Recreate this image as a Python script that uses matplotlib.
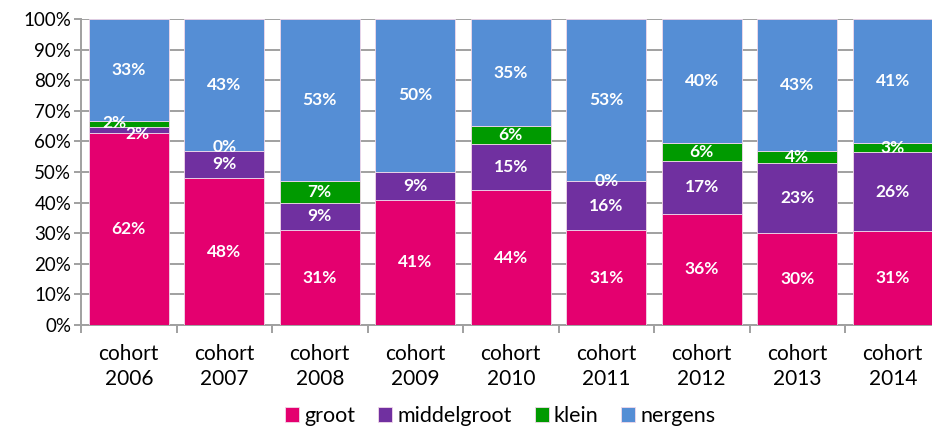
import numpy as np
import matplotlib
matplotlib.use('Agg')
import matplotlib.pyplot as plt

plt.rcParams['font.family'] = ['Lato', 'DejaVu Sans']

cohorts = ['cohort\n2006', 'cohort\n2007', 'cohort\n2008', 'cohort\n2009', 'cohort\n2010',
           'cohort\n2011', 'cohort\n2012', 'cohort\n2013', 'cohort\n2014']
series = ['groot', 'middelgroot', 'klein', 'nergens']
groot = [62, 48, 31, 41, 44, 31, 36, 30, 31]
middelgroot = [2, 9, 9, 9, 15, 16, 17, 23, 26]
klein = [2, 0, 7, np.nan, 6, 0, 6, 4, 3]
nergens = [33, 43, 53, 50, 35, 53, 40, 43, 41]
colors = ['#E4006F', '#7030A0', '#009A00', '#558ED5']

data = np.array([groot, middelgroot, klein, nergens], dtype=float)
share = np.nan_to_num(data)
share = share / share.sum(axis=0) * 100

fig = plt.figure(figsize=(9.32, 4.30), dpi=100)
ax = fig.add_axes([81 / 932, 1 - 325 / 430, 851 / 932, 306 / 430])

x = np.arange(len(cohorts))
w = 0.84
bottom = np.zeros(len(cohorts))
# small nudges for the crowded labels
nudge = {(2, 0): (-0.15, 0.5), (1, 0): (0.09, -1.3), (2, 1): (0, 1.2)}
for k, name in enumerate(series):
    ax.bar(x, share[k], w, bottom=bottom, color=colors[k], label=name,
           edgecolor='#f2d8ea', linewidth=0.6, zorder=3)
    for i in range(len(cohorts)):
        if np.isnan(data[k, i]):
            continue
        dx, dy = nudge.get((k, i), (0, 0))
        ax.text(x[i] + dx, bottom[i] + share[k, i] / 2 + dy, f'{int(data[k, i])}%',
                ha='center', va='center', color='white', fontsize=12.5,
                fontweight='bold', zorder=4)
    bottom += share[k]

ax.set_ylim(0, 100)
ax.set_xlim(-0.5, -0.5 + 851 / 95.5)
ax.set_yticks(np.arange(0, 101, 10))
ax.set_yticklabels([f'{v}%' for v in range(0, 101, 10)], fontsize=13.5)
ax.yaxis.grid(True, color='#a0a0a0', linewidth=1.4, zorder=0)
ax.set_axisbelow(True)

ax.set_xticks(np.arange(-0.5, 8.0, 1.0))
ax.set_xticklabels([])
ax.set_xticks(x, minor=True)
ax.set_xticklabels(cohorts, minor=True, fontsize=15, linespacing=1.3)
ax.tick_params(axis='x', which='major', length=6, color='#a0a0a0', width=1.4)
ax.tick_params(axis='x', which='minor', length=0, pad=14)
ax.tick_params(axis='y', length=5, color='#a0a0a0', width=1.4, pad=2)

for s in ['top', 'right']:
    ax.spines[s].set_visible(False)
for s in ['left', 'bottom']:
    ax.spines[s].set_color('#a0a0a0')
    ax.spines[s].set_linewidth(1.4)

fig.legend(loc='lower center', bbox_to_anchor=(0.537, -0.036), ncol=4, frameon=False,
           fontsize=15.5, handlelength=0.65, handleheight=0.65, handletextpad=0.25,
           columnspacing=1.05)

fig.savefig('out.png', dpi=100)
